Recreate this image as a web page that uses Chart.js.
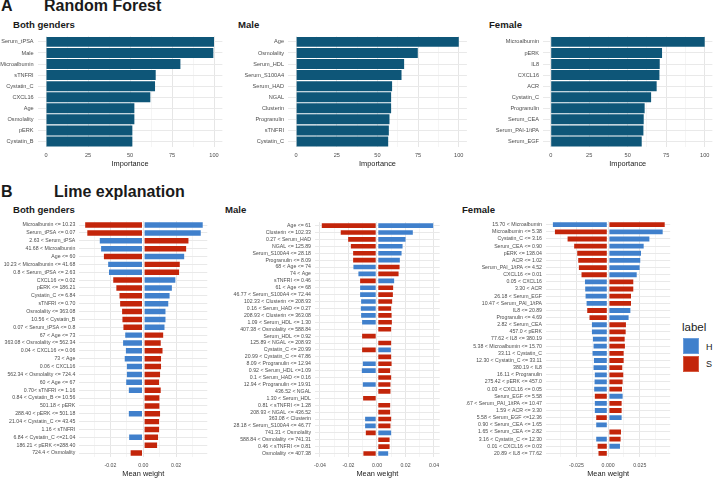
<!DOCTYPE html>
<html>
<head>
<meta charset="utf-8">
<script src="https://cdn.jsdelivr.net/npm/chart.js@4.4.0/dist/chart.umd.min.js"></script>
<style>
  body { margin: 0; background: #fff; font-family: "Liberation Sans", Arial, sans-serif; }
  #page { position: relative; width: 714px; height: 479px; overflow: hidden; }
  #page canvas { position: absolute; }
  .txt { position: absolute; white-space: nowrap; transform: translateY(-50%); color: #1a1a1a; }
  .big { font-weight: bold; font-size: 16px; }
  .sub { font-weight: bold; font-size: 9.6px; }
  .key { position: absolute; width: 16px; height: 16px; box-sizing: border-box; }
</style>
</head>
<body>
<div id="page">
  <div class="txt big" style="left:1px;top:6px">A</div>
  <div class="txt big" style="left:44px;top:6px">Random Forest</div>
  <div class="txt sub" style="left:13px;top:24px">Both genders</div>
  <div class="txt sub" style="left:238px;top:24px">Male</div>
  <div class="txt sub" style="left:489px;top:24px">Female</div>

  <div class="txt big" style="left:1px;top:192px">B</div>
  <div class="txt big" style="left:54px;top:192px">Lime explanation</div>
  <div class="txt sub" style="left:13px;top:209px">Both genders</div>
  <div class="txt sub" style="left:225px;top:209px">Male</div>
  <div class="txt sub" style="left:462px;top:209px">Female</div>

  <div class="txt" style="left:682px;top:327px;font-size:11.5px">label</div>
  <div class="key" style="left:683px;top:338px;background:#4080cc;border:1px solid #6b9ddb"></div>
  <div class="key" style="left:683px;top:356px;background:#c3250a;border:1px solid #d65a40"></div>
  <div class="txt" style="left:706px;top:347px;font-size:9px">H</div>
  <div class="txt" style="left:706px;top:364px;font-size:9px">S</div>
</div>

<script>
// Random Forest importance
const rfBothLabels = ["Serum_tPSA", "Male", "Microalbumin", "sTNFRI", "Cystatin_C", "CXCL16", "Age", "Osmolality", "pERK", "Cystatin_B"];
const rfBothValues = [100, 99.6, 80.0, 65.3, 64.9, 62.1, 52.6, 52.6, 51.4, 51.4];
const rfMaleLabels = ["Age", "Osmolality", "Serum_HDL", "Serum_S100A4", "Serum_HAD", "NGAL", "Clusterin", "Progranulin", "sTNFRI", "Cystatin_C"];
const rfMaleValues = [100, 74.8, 66.4, 64.8, 59.0, 58.4, 58.4, 57.4, 57.0, 56.6];
const rfFemaleLabels = ["Microalbumin", "pERK", "IL8", "CXCL16", "ACR", "Cystatin_C", "Progranulin", "Serum_CEA", "Serum_PAI-1/tPA", "Serum_EGF"];
const rfFemaleValues = [100, 72.3, 70.8, 70.6, 68.8, 65.2, 61.0, 60.4, 60.2, 59.1];
const rfTicks = [0, 25, 50, 75, 100];
const rfTickLabels = ["0", "25", "50", "75", "100"];
const rfMinor = [12.5, 37.5, 62.5, 87.5];

// Lime explanation, both genders
const limeBothLabels = ["Microalbumin <= 10.23", "Serum_tPSA <= 0.07", "2.63 < Serum_tPSA", "41.68 < Microalbumin", "Age <= 60",
  "10.23 < Microalbumin <= 41.68", "0.8 < Serum_tPSA <= 2.63", "CXCL16 <= 0.02", "pERK <= 186.21", "Cystatin_C <= 6.84",
  "sTNFRI <= 0.70", "Osmolality <= 363.08", "10.56 < Cystatin_B", "0.07 < Serum_tPSA <= 0.8", "67 < Age <= 73",
  "363.08 < Osmolality <= 562.34", "0.04 < CXCL16 <= 0.06", "73 < Age", "0.06 < CXCL16", "562.34 < Osmolality <= 724.4",
  "60 < Age <= 67", "0.70< sTNFRI <= 1.16", "0.84 < Cystatin_B <= 10.56", "501.18 < pERK", "288.40 < pERK <= 501.18",
  "21.04 < Cystatin_C <= 43.45", "1.16 < sTNFRI", "6.84 < Cystatin_C <=21.04", "186.21 < pERK <=288.40", "724.4 < Osmolality"];
const limeBothH = [0.0367, 0.0355, -0.027, -0.0262, 0.0254, -0.0219, -0.0214, 0.02, 0.0179, 0.0165,
  0.0157, 0.014, 0.014, 0.0134, -0.0115, -0.0128, -0.0111, -0.0118, -0.0105, -0.0105,
  -0.0109, -0.0093, null, null, -0.0093, null, null, -0.0091, null, null];
const limeBothS = [-0.0359, -0.0346, 0.028, 0.0266, -0.0245, 0.0227, 0.0223, -0.0188, -0.0169, -0.015,
  -0.0146, -0.0134, -0.0132, -0.0126, 0.0126, 0.0111, 0.0122, 0.0113, 0.0113, 0.0107,
  0.0101, 0.0111, 0.0103, 0.0103, 0.0107, 0.0101, 0.0101, 0.0095, 0.0089, -0.0082];
const limeBothTicks = [-0.02, 0, 0.02];
const limeBothTickLabels = ["-0.02", "0.00", "0.02"];
const limeBothMinor = [-0.03, -0.01, 0.01, 0.03];

// Lime explanation, male
const limeMaleLabels = ["Age <= 61", "Clusterin <= 102.33", "0.27 < Serum_HAD", "NGAL <= 125.89", "Serum_S100A4 <= 28.18",
  "Progranulin <= 8.09", "68 < Age <= 74", "74 < Age", "sTNFRI <= 0.46", "61 < Age <= 68",
  "46.77 < Serum_S100A4 <= 72.44", "102.33 < Clusterin <= 208.93", "0.16 < Serum_HAD <= 0.27", "208.93 < Clusterin <= 363.08", "1.09 < Serum_HDL <= 1.30",
  "407.38 < Osmolality <= 588.84", "Serum_HDL <= 0.92", "125.89 < NGAL <= 208.93", "Cystatin_C <= 20.99", "20.99 < Cystatin_C <= 47.86",
  "8.09 < Progranulin <= 12.94", "0.92 < Serum_HDL <=1.09", "0.1 < Serum_HAD <= 0.16", "12.94 < Progranulin <= 19.91", "436.52 < NGAL",
  "1.30 < Serum_HDL", "0.81 < sTNFRI <= 1.28", "208.93 < NGAL <= 436.52", "363.08 < Clusterin", "28.18 < Serum_S100A4 <= 46.77",
  "741.31 < Osmolality", "588.84 < Osmolality <= 741.31", "0.46 < sTNFRI <= 0.81", "Osmolality <= 407.38"];
const limeMaleH = [0.04, 0.0257, 0.0206, 0.0185, 0.0178, 0.0166, -0.0171, -0.0136, 0.0126, -0.0124,
  -0.0124, -0.0117, -0.0119, -0.0117, -0.011, null, null, null, 0.0103, null,
  -0.0105, -0.0112, null, -0.0105, null, null, null, null, -0.0089, -0.0089,
  0.0105, null, null, 0.0084];
const limeMaleS = [-0.0393, -0.026, -0.0208, -0.0189, -0.0173, -0.0173, 0.0164, 0.0157, -0.0124, 0.0119,
  0.0117, 0.0112, 0.0105, 0.0108, 0.011, 0.0105, -0.011, 0.0105, -0.011, 0.0105,
  0.0108, 0.0098, 0.0105, 0.01, 0.01, -0.0103, 0.0098, 0.0098, 0.0105, 0.01,
  -0.0084, 0.0094, 0.0094, -0.0101];
const limeMaleTicks = [-0.04, -0.02, 0, 0.02, 0.04];
const limeMaleTickLabels = ["-0.04", "-0.02", "0.00", "0.02", "0.04"];
const limeMaleMinor = [-0.03, -0.01, 0.01, 0.03];

// Lime explanation, female
const limeFemaleLabels = ["15.70 < Microalbumin", "Microalbumin <= 5.38", "Cystatin_C <= 3.16", "Serum_CEA <= 0.90", "pERK <= 138.04",
  "ACR <= 1.02", "Serum_PAI_1/tPA <= 4.52", "CXCL16 <= 0.01", "0.05 < CXCL16", "3.30 < ACR",
  "26.18 < Serum_EGF", "10.47 < Serum_PAI_1/tPA", "IL8 <= 20.89", "Progranulin <= 4.69", "2.82 < Serum_CEA",
  "457.0 < pERK", "77.62 < IL8 <= 380.19", "5.38 < Microalbumin <= 15.70", "33.11 < Cystatin_C", "12.30 < Cystatin_C <= 33.11",
  "380.19 < IL8", "16.11 < Progranulin", "275.42 < pERK <= 457.0", "0.03 < CXCL16 <= 0.05", "Serum_EGF <= 5.58",
  "6.67 < Serum_PAI_1/tPA <= 10.47", "1.59 < ACR <= 3.30", "5.58 < Serum_EGF <=12.36", "0.90 < Serum_CEA <= 1.65", "1.65 < Serum_CEA <= 2.82",
  "3.16 < Cystatin_C <= 12.30", "0.01 < CXCL16 <= 0.03", "20.89 < IL8 <= 77.62"];
const limeFemaleH = [-0.0442, 0.0437, 0.0332, 0.0287, 0.0266, 0.026, 0.0255, 0.0232, -0.0189, -0.0187,
  -0.0184, -0.0176, 0.0182, 0.0168, -0.0134, -0.0134, -0.0126, -0.0121, -0.0129, -0.0118,
  -0.0121, -0.0111, -0.0113, -0.0116, 0.0121, -0.0111, -0.0111, 0.0113, -0.01, null,
  -0.01, 0.01, null];
const limeFemaleS = [0.0453, -0.0426, -0.0326, -0.0274, -0.025, -0.0242, -0.0237, -0.0216, 0.0205, 0.0205,
  0.0187, 0.0187, -0.0171, -0.0153, 0.0147, 0.0145, 0.0137, 0.0139, 0.0129, 0.0129,
  0.0118, 0.0126, 0.0121, 0.0116, -0.0111, 0.0113, 0.0113, -0.01, null, 0.0108,
  0.0105, -0.0089, -0.0082];
const limeFemaleTicks = [-0.025, 0, 0.025];
const limeFemaleTickLabels = ["-0.025", "0.000", "0.025"];
const limeFemaleMinor = [-0.0375, -0.0125, 0.0125, 0.0375];

const FONT = '"Liberation Sans", Arial, sans-serif';
const rfColor = "#0e5678";
const hColor = "#4080cc";
const sColor = "#c3250a";

function sameVal(a, b) { return Math.abs(a - b) < 1e-9; }

// area = plot area on the page (left, top, right, bottom)
function drawPanel(area, yW, labels, datasets, xMin, xMax, major, majorLabels, minor, labelSize, xTitle) {
  const padT = 4, padR = 14, xH = 21;
  const canvas = document.createElement("canvas");
  const left = area.l - yW, top = area.t - padT;
  canvas.width = Math.round(area.r + padR - left);
  canvas.height = Math.round(area.b + xH - top);
  canvas.style.left = left + "px";
  canvas.style.top = top + "px";
  document.getElementById("page").appendChild(canvas);

  const allTicks = major.concat(minor).sort((a, b) => a - b);
  const isMajor = v => major.some(m => sameVal(m, v));

  new Chart(canvas, {
    type: "bar",
    data: { labels: labels, datasets: datasets },
    options: {
      indexAxis: "y",
      responsive: false,
      animation: false,
      layout: { padding: { top: padT, right: canvas.width - (area.r - left), left: 0, bottom: 0 } },
      plugins: { legend: { display: false }, tooltip: { enabled: false } },
      datasets: { bar: { categoryPercentage: 0.9, barPercentage: 1.0 } },
      scales: {
        x: {
          type: "linear",
          min: xMin,
          max: xMax,
          stacked: true,
          afterBuildTicks: s => { s.ticks = allTicks.map(v => ({ value: v })); },
          afterFit: s => { s.height = xH; },
          border: { display: false },
          grid: {
            drawTicks: false,
            color: ctx => (ctx.tick && isMajor(ctx.tick.value)) ? "#e6e6e6" : "#f1f1f1",
            lineWidth: ctx => (ctx.tick && isMajor(ctx.tick.value)) ? 1 : 0.7
          },
          title: {
            display: true,
            text: xTitle,
            color: "#1a1a1a",
            padding: 0,
            font: { family: FONT, size: 7.4, lineHeight: 1.2 }
          },
          ticks: {
            autoSkip: false,
            maxRotation: 0,
            padding: 5,
            color: "#4d4d4d",
            font: { family: FONT, size: labelSize },
            callback: v => {
              const i = major.findIndex(m => sameVal(m, v));
              return i >= 0 ? majorLabels[i] : "";
            }
          }
        },
        y: {
          stacked: true,
          afterFit: s => { s.width = yW; },
          border: { display: false },
          grid: { offset: false, drawTicks: false, color: "#e9e9e9", lineWidth: 1 },
          ticks: {
            autoSkip: false,
            padding: 4,
            color: "#4d4d4d",
            font: { family: FONT, size: labelSize }
          }
        }
      }
    }
  });
}

function rfSet(values) {
  return [{ data: values, backgroundColor: rfColor, borderWidth: 0 }];
}

function limeSets(h, s) {
  return [
    { label: "H", data: h, backgroundColor: hColor, borderColor: "rgba(255,255,255,0.28)", borderWidth: 0.8, borderSkipped: false },
    { label: "S", data: s, backgroundColor: sColor, borderColor: "rgba(255,255,255,0.28)", borderWidth: 0.8, borderSkipped: false }
  ];
}

// panel A
const rfTop = 33.3, rfBottom = 147.7;
drawPanel({ l: 37.6, t: rfTop, r: 222.4, b: rfBottom }, 37.6, rfBothLabels, rfSet(rfBothValues), -5, 105, rfTicks, rfTickLabels, rfMinor, 5.6, "Importance");
drawPanel({ l: 288.2, t: rfTop, r: 467.1, b: rfBottom }, 52, rfMaleLabels, rfSet(rfMaleValues), -5, 105, rfTicks, rfTickLabels, rfMinor, 5.6, "Importance");
drawPanel({ l: 542.6, t: rfTop, r: 712, b: rfBottom }, 70, rfFemaleLabels, rfSet(rfFemaleValues), -5, 105, rfTicks, rfTickLabels, rfMinor, 5.6, "Importance");

// panel B
drawPanel({ l: 79.3, t: 218.0, r: 207.3, b: 457.3 }, 79.3, limeBothLabels, limeSets(limeBothH, limeBothS), -0.039, 0.039, limeBothTicks, limeBothTickLabels, limeBothMinor, 5.2, "Mean weight");
drawPanel({ l: 315, t: 218.5, r: 439.7, b: 456.8 }, 93, limeMaleLabels, limeSets(limeMaleH, limeMaleS), -0.0435, 0.044, limeMaleTicks, limeMaleTickLabels, limeMaleMinor, 5.2, "Mean weight");
drawPanel({ l: 545.9, t: 218.4, r: 670.1, b: 456.9 }, 80, limeFemaleLabels, limeSets(limeFemaleH, limeFemaleS), -0.049, 0.049, limeFemaleTicks, limeFemaleTickLabels, limeFemaleMinor, 5.2, "Mean weight");
</script>
</body>
</html>
